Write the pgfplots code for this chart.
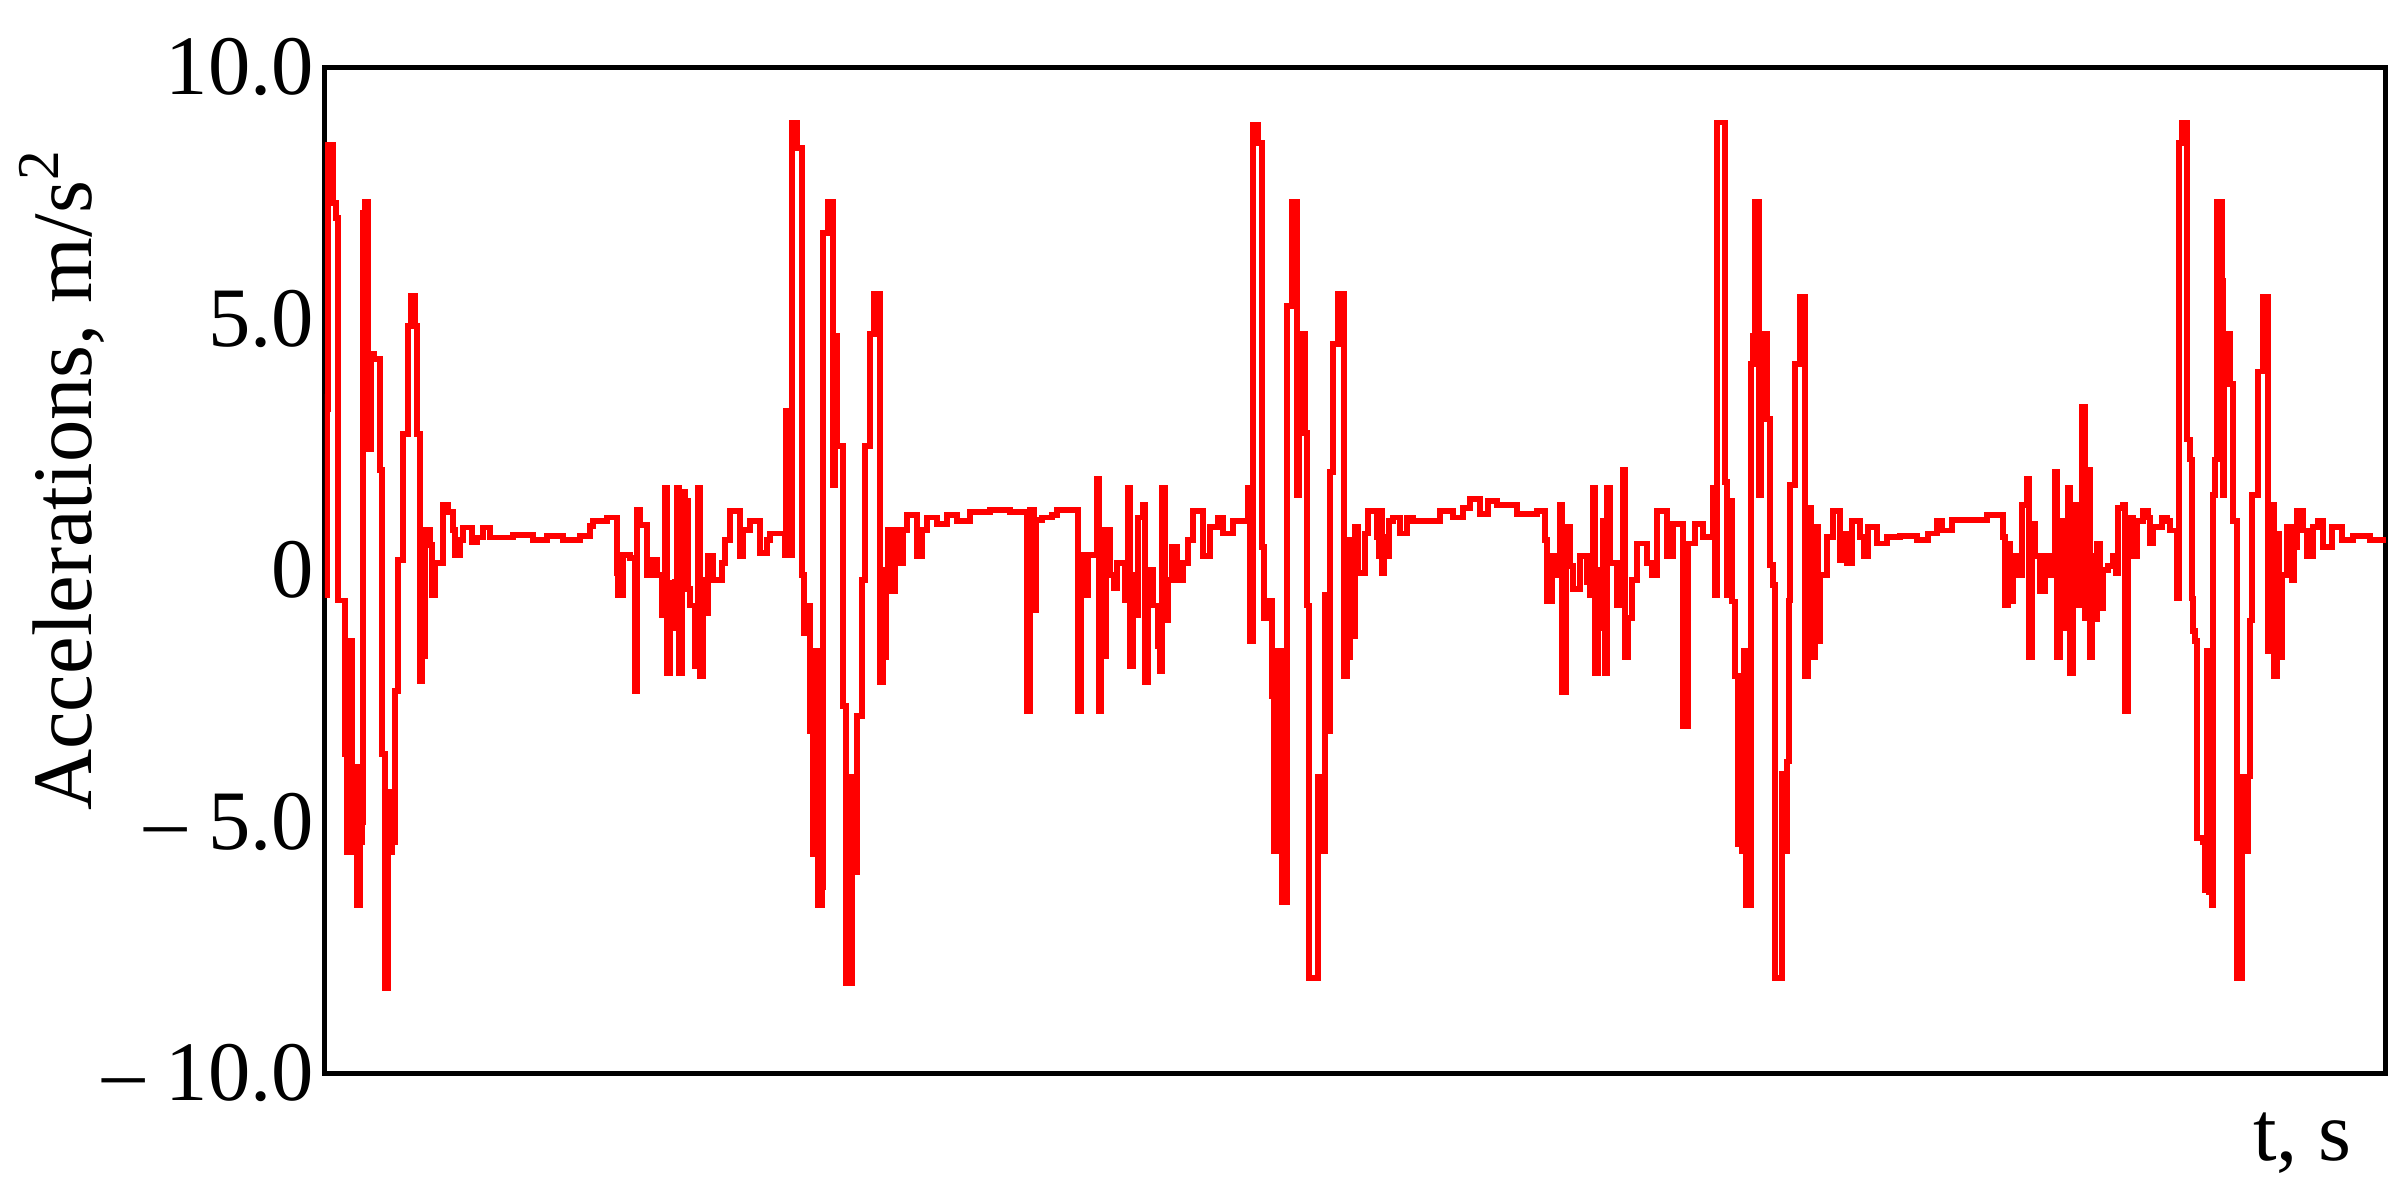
\documentclass[border=0pt]{standalone}
\usepackage{fontspec}
\setmainfont{Liberation Serif}
\usepackage{pgfplots}
\pgfplotsset{compat=1.18}

\begin{document}
\begin{tikzpicture}
\begin{axis}[name=ax, scale only axis, width=389.6pt, height=190.2pt,
  xmin=325, xmax=2386, ymin=-10, ymax=10,
  xtick=\empty, ytick={-10,-5,0,5,10},
  yticklabels={– 10.0, – 5.0, 0, 5.0, 10.0},
  major tick length=0pt,
  axis line style={line width=1pt},
  tick label style={font=\fontsize{16}{19}\selectfont},
  yticklabel style={xshift=1.5pt},
  label style={font=\fontsize{16}{19}\selectfont},
  ylabel={Accelerations, m/s\textsuperscript{2}},
  ylabel style={at={(rel axis cs:0,0.59)}, anchor=center, yshift=49.7pt},
  xlabel={t, s},
  xlabel style={at={(rel axis cs:1,0)}, anchor=base east, inner sep=0pt, xshift=-6.2pt, yshift=-16.4pt}]
% acceleration signal, x in picture units
\addplot[const plot, red, line width=1.1pt] coordinates {
(325,3.5)(326,-0.5)(327,3.2)(328,8.45)(333,7.3)(336,7.0)(338,-0.6)(345,-3.65)(347,-5.6)(350,-1.4)(352,-5.6)(354,-3.9)(357,-6.65)(360,-5.4)(362,-5.0)(363,7.1)(365,7.33)(368,4.3)(369,2.4)(371,4.3)(374,4.2)(380,2.0)(382,-3.65)(385,-8.3)(388,-4.4)(390,-5.6)(392,-5.4)(395,-2.4)(398,0.2)(403,2.7)(408,4.85)(411,5.45)(415,4.85)(417,2.7)(420,-2.2)(422,-0.6)(424,-1.7)(425,0.8)(430,0.5)(432,-0.5)(435,0.15)(443,1.3)(448,1.15)(453,0.8)(455,0.3)(460,0.6)(463,0.85)(472,0.55)(477,0.65)(483,0.85)(490,0.65)(513,0.7)(533,0.6)(547,0.68)(563,0.6)(580,0.68)(590,0.88)(593,0.98)(607,1.05)(617,-0.05)(618,-0.5)(623,0.3)(630,0.25)(635,-2.4)(637,1.2)(640,0.9)(647,-0.1)(652,0.2)(657,-0.1)(662,-0.9)(665,1.63)(667,-2.04)(670,-0.25)(672,-1.14)(675,-0.24)
(677,1.63)(679,-2.04)(682,1.56)(685,1.37)(688,-0.37)(690,-0.7)(695,-1.9)(698,1.63)(700,-2.1)(703,-0.2)(705,-0.85)(708,0.28)(713,-0.2)(722,0.15)(725,0.6)(730,1.18)(740,0.28)(743,0.8)(750,0.98)(760,0.34)(767,0.6)(770,0.73)(785,0.3)(786,3.17)(790,0.3)(792,8.9)(797,8.4)(802,-0.1)(804,-1.25)(805,-0.7)(810,-3.2)(813,-5.65)(816,-1.6)(818,-6.65)(822,-6.3)(823,6.7)(828,7.33)(833,1.7)(835,4.65)(837,2.47)(843,-2.7)(846,-8.2)(852,-4.1)(854,-6.0)(857,-2.9)(862,-0.2)(865,2.47)(870,4.7)(874,5.5)(880,-2.23)(883,-1.72)(886,0.0)(888,0.8)(892,-0.42)(895,0.8)(900,0.15)(903,0.8)(907,1.1)(917,0.28)(922,0.8)(927,1.05)(937,0.92)(947,1.1)(957,0.98)(970,1.15)(990,1.2)(1010,1.15)
(1027,-2.8)(1030,1.2)(1034,-0.8)(1036,1.0)(1042,1.05)(1052,1.1)(1057,1.2)(1078,-2.8)(1081,0.3)(1085,-0.5)(1088,0.3)(1097,1.82)(1099,-2.8)(1101,0.8)(1104,-1.7)(1106,0.8)(1110,-0.1)(1114,-0.35)(1117,0.15)(1125,-0.6)(1128,1.63)(1130,-1.9)(1133,-0.1)(1135,-0.9)(1138,1.05)(1143,1.3)(1145,-2.23)(1148,0.0)(1153,-0.7)(1158,-1.5)(1160,-2.0)(1162,1.63)(1165,-1.0)(1168,-0.2)(1172,0.47)(1177,-0.2)(1183,0.15)(1188,0.6)(1193,1.18)(1203,0.28)(1210,0.86)(1218,1.05)(1223,0.73)(1233,0.98)(1248,1.63)(1250,-1.4)(1253,8.85)(1258,8.5)(1262,0.47)(1264,-0.95)(1267,-0.6)(1272,-2.5)(1274,-5.58)(1278,-1.6)(1282,-6.6)(1287,5.25)(1292,7.33)(1297,1.5)(1299,4.5)(1300,4.7)(1305,2.72)(1307,-0.7)(1309,-8.1)(1318,-4.1)(1321,-5.58)(1325,-0.5)(1327,-3.2)(1330,1.95)(1333,4.5)(1338,5.5)(1344,-2.1)(1347,-1.72)(1350,0.6)(1352,-1.3)(1355,0.86)(1358,-0.05)(1365,0.73)(1368,1.18)(1377,0.66)(1379,0.28)
(1380,1.18)(1382,-0.05)(1384,0.66)(1387,0.28)(1389,0.98)(1393,1.05)(1400,0.73)(1407,1.05)(1413,0.98)(1440,1.18)(1453,1.05)(1463,1.24)(1470,1.41)(1480,1.12)(1488,1.37)(1497,1.3)(1517,1.12)(1537,1.18)(1545,0.6)(1547,-0.62)(1552,0.28)(1557,-0.1)(1560,1.3)(1562,-2.43)(1566,0.86)(1570,0.08)(1573,-0.37)(1580,0.28)(1587,-0.24)(1590,-0.5)(1593,1.63)(1595,-2.04)(1598,0.0)(1600,-1.14)(1603,0.98)(1605,-2.04)(1607,1.63)(1610,0.15)(1617,-0.7)(1623,2.0)(1625,-1.72)(1628,-0.95)(1632,-0.2)(1637,0.53)(1647,0.15)(1652,-0.1)(1657,1.18)(1667,0.28)(1673,0.92)(1683,-3.1)(1688,0.53)(1695,0.92)(1703,0.66)(1713,1.63)(1715,-0.5)(1717,8.9)
(1725,1.75)(1727,-0.5)(1728,1.37)(1732,-0.62)(1735,-2.1)(1738,-5.45)(1742,-5.58)(1744,-1.6)(1746,-6.65)(1751,4.1)(1753,4.65)(1755,7.33)(1759,1.5)(1761,4.2)(1763,4.7)(1767,3.0)(1770,0.1)(1773,-0.3)(1775,-8.1)(1782,-4.05)(1785,-5.58)(1787,-3.8)(1789,-0.6)(1790,1.7)(1795,4.1)(1800,5.43)(1805,-2.1)(1808,1.24)(1811,-1.72)(1815,0.86)(1818,-1.4)(1820,-0.1)(1827,0.66)(1833,1.18)(1840,0.21)(1844,0.73)(1847,0.15)(1852,0.98)(1860,0.66)(1864,0.28)(1868,0.86)(1877,0.53)(1887,0.66)(1900,0.68)(1917,0.6)(1928,0.73)(1937,0.98)(1942,0.79)(1952,1.0)(1987,1.1)(2003,0.66)(2005,-0.7)(2008,0.53)(2010,-0.62)(2013,0.28)(2018,-0.1)(2022,1.3)(2027,1.82)(2029,-1.72)(2032,0.92)(2035,0.28)(2040,-0.42)(2045,0.28)(2050,-0.1)
(2055,1.95)(2057,-1.72)(2060,0.98)(2062,-1.14)(2065,0.66)(2066,-0.88)(2068,1.63)(2070,-2.04)(2073,1.3)(2077,0.47)(2079,-0.7)(2082,3.24)(2085,-0.95)(2087,2.0)(2090,-1.72)(2092,0.28)(2095,-0.98)(2097,0.53)(2100,-0.75)(2103,0.0)(2108,0.08)(2113,0.28)(2116,-0.05)(2118,1.24)(2123,1.3)(2125,-2.8)(2128,1.05)(2133,0.28)(2137,0.98)(2143,1.18)(2148,1.05)(2150,0.53)(2153,0.86)(2162,1.05)(2167,0.98)(2170,0.79)(2177,-0.56)(2179,8.5)(2182,8.9)(2187,2.6)(2190,2.2)(2192,-0.56)(2193,-1.2)(2195,-1.4)(2197,-5.33)(2203,-5.4)(2205,-6.35)(2207,-1.6)(2209,-6.4)(2212,-6.65)(2213,1.5)(2215,2.2)(2217,7.33)(2222,5.75)(2223,1.5)(2224,4.7)(2230,3.7)(2233,0.98)(2237,-8.1)(2242,-4.1)(2245,-5.58)(2248,-4.1)(2250,-1.0)(2252,1.5)(2258,3.95)(2263,5.43)(2268,-1.6)(2272,1.3)(2274,-2.1)(2277,0.73)(2279,-1.72)(2282,-0.1)(2287,0.86)(2292,-0.2)(2294,0.47)(2297,1.18)(2303,0.79)(2307,0.28)(2313,0.86)(2318,0.98)(2323,0.47)(2332,0.86)(2342,0.6)(2353,0.68)(2370,0.6)(2386,0.6)
};
\end{axis}
\pgfresetboundingbox
\path (ax.south west) ++(-61.4pt,-22.9pt) coordinate (bl);
\path (ax.north east) ++(4pt,12.7pt) coordinate (tr);
\path[use as bounding box] (bl) rectangle (tr);
\end{tikzpicture}
\end{document}
